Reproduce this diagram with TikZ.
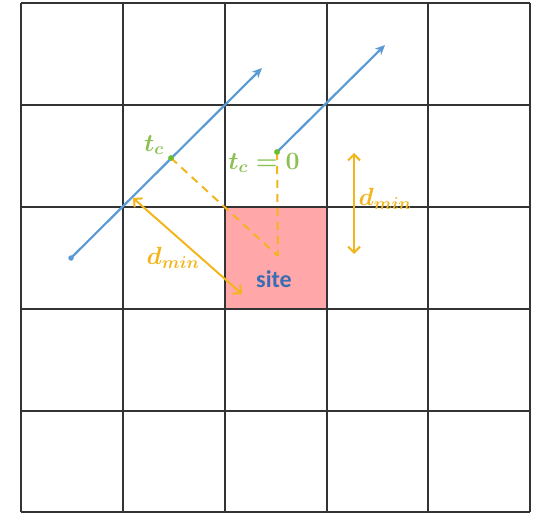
\documentclass[tikz,border=0pt]{standalone}
\usepackage{fontspec}
\usepackage{amsmath}
\usepackage{bm}
\newfontfamily\sitefont{Carlito}
\usetikzlibrary{arrows.meta}
\definecolor{gridc}{HTML}{333333}
\definecolor{bluel}{HTML}{5B9BD5}
\definecolor{goldc}{HTML}{F2B51C}
\definecolor{greenc}{HTML}{8CC152}
\definecolor{greendot}{HTML}{6DBE2C}
\definecolor{pinkc}{HTML}{FFA7A9}
\definecolor{sitec}{HTML}{3A6DB3}
\tikzset{
  gridline/.style={draw=gridc, line width=1.6pt},
  trajectory/.style={draw=bluel, line width=2.2pt, -{Stealth[length=10pt,width=9pt]}},
  distarrow/.style={draw=goldc, line width=2pt, {Straight Barb[length=6pt,width=12pt]}-{Straight Barb[length=6pt,width=12pt]}},
  dashline/.style={draw=goldc, line width=2pt, dash pattern=on 8pt off 6pt},
  dotg/.style={circle, fill=greendot, inner sep=0pt, minimum size=5.5pt},
  dotb/.style={circle, fill=bluel, inner sep=0pt, minimum size=5.5pt},
  lab/.style={inner sep=0pt, font=\fontsize{25}{28}\selectfont\boldmath},
}
\begin{document}
\begin{tikzpicture}[x=1pt,y=-1pt]
\useasboundingbox (0,0) rectangle (537,513);
% site cell
\fill[pinkc] (225,207) rectangle (327,309);
% grid
\foreach \gx in {21,123,225,327,428,530} {
  \draw[gridline] (\gx,3) -- (\gx,512);
}
\foreach \gy in {3,105,207,309,411,512} {
  \draw[gridline] (21,\gy) -- (530,\gy);
}
% points
\coordinate (site) at (278,256);
\node[dotb] (s1) at (71,258) {};
\coordinate (e1) at (262,68);
\node[dotg] (tc) at (171,158) {};
\node[dotg] (t0) at (277,152) {};
\coordinate (e2) at (385,45);
% dashed
\draw[dashline] (tc.center) -- (site);
\draw[dashline] (t0.center) -- (site);
% trajectories
\draw[trajectory] (s1.center) -- (e1);
\draw[trajectory] (t0.center) -- (e2);
\node[dotg] at (tc) {};
\node[dotg] at (t0) {};
% distance arrows
\coordinate (d1a) at (133,198);
\coordinate (d1b) at (242,294);
\draw[distarrow] (d1a) -- (d1b);
\coordinate (d2a) at (354,153);
\coordinate (d2b) at (354,254);
\draw[distarrow] (d2a) -- (d2b);
% labels
\node[lab, text=greenc] (ltc) at (154,145) {$t_c$};
\node[lab, text=greenc] (ltc0) at (264,163) {$t_c=0$};
\node[lab, text=goldc] (ld1) at (173,258) {$d_{min}$};
\node[lab, text=goldc] (ld2) at (385,199) {$d_{min}$};
\node[inner sep=0pt, text=sitec, font=\sitefont\bfseries\fontsize{24}{28}\selectfont] (lsite) at (274,279) {site};
\end{tikzpicture}
\end{document}
